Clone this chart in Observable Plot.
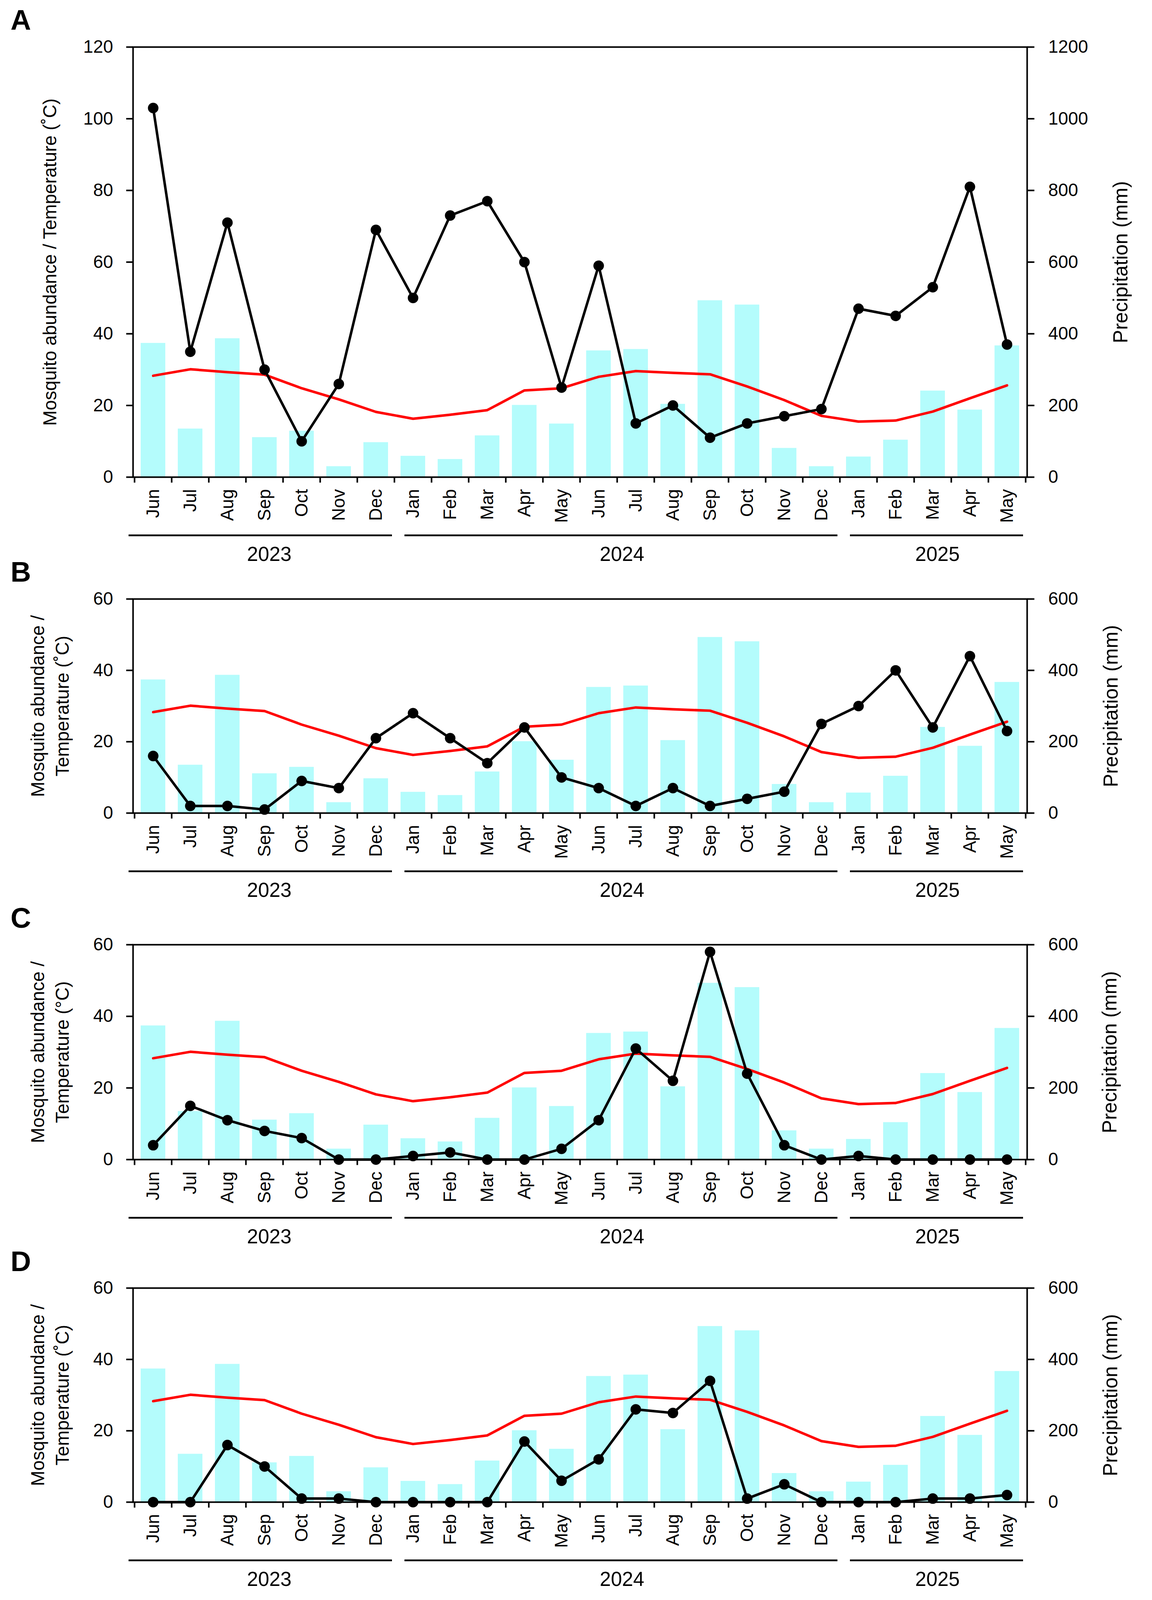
<!DOCTYPE html>
<html>
<head>
<meta charset="utf-8">
<script src="https://cdn.jsdelivr.net/npm/d3@7"></script>
<script src="https://cdn.jsdelivr.net/npm/@observablehq/plot@0.6"></script>
<style>
  html, body { margin: 0; padding: 0; background: #fff; overflow: hidden; }
  #root { position: relative; width: 2948px; background: #fff; font-family: "Liberation Sans", Arial, sans-serif; overflow: hidden; }
  .panel { position: absolute; left: 0; width: 2948px; }
  .panel svg { display: block; max-width: none; }
  .letter { position: absolute; left: 27px; font-weight: bold; line-height: 1; color: #000; font-family: "Liberation Sans", Arial, sans-serif; }
</style>
</head>
<body>
<div id="root"></div>
<script>
// ---------- data ----------
const months = ["Jun","Jul","Aug","Sep","Oct","Nov","Dec","Jan","Feb","Mar","Apr","May",
                "Jun","Jul","Aug","Sep","Oct","Nov","Dec","Jan","Feb","Mar","Apr","May"];
const years = [2023,2023,2023,2023,2023,2023,2023,
               2024,2024,2024,2024,2024,2024,2024,2024,2024,2024,2024,2024,
               2025,2025,2025,2025,2025];
const precipitation = [374,135,387,111,129,30,97,59,50,116,201,149,
                       353,357,204,493,481,81,30,57,104,241,188,367];
const temperature = [28.3,30.1,29.3,28.6,24.8,21.7,18.2,16.3,17.4,18.7,24.2,24.8,
                     28.0,29.6,29.1,28.7,25.3,21.5,17.1,15.5,15.8,18.3,22.0,25.6];
const abundanceA = [103,35,71,30,10,26,69,50,73,77,60,25,59,15,20,11,15,17,19,47,45,53,81,37];
const abundanceB = [16,2,2,1,9,7,21,28,21,14,24,10,7,2,7,2,4,6,25,30,40,24,44,23];
const abundanceC = [4,15,11,8,6,0,0,1,2,0,0,3,11,31,22,58,24,4,0,1,0,0,0,0];
const abundanceD = [0,0,16,10,1,1,0,0,0,0,17,6,12,26,25,34,1,5,0,0,0,1,1,2];
const ticksA = [0,20,40,60,80,100,120];
const ticksBCD = [0,20,40,60];
const precipFactor = 10; // right axis = left axis x 10

// ---------- derived tables ----------
const keys = months.map((m, i) => `${years[i]}-${m}`);
const monthOf = new Map(keys.map((k, i) => [k, months[i]]));
const rows = keys.map((k, i) => ({key: k, precip: precipitation[i], temp: temperature[i]}));
const yearGroups = d3.groups(keys.map((k, i) => ({key: k, year: years[i]})), d => d.year)
  .map(([year, items]) => ({year: String(year), first: items[0].key, last: items[items.length - 1].key,
                            mid: items[Math.floor((items.length - 1) / 2)].key, even: items.length % 2 === 0}));

// ---------- layout (the viewport may be shorter than the 5365px figure: fit vertically) ----------
const W = 2948, H = 5365, ML = 340, MR = 320;
const K = Math.min(1, (window.innerHeight || H) / H);
const step = (W - ML - MR) / keys.length;
const CYAN = "#b4fcfc";
const FONT = "'Liberation Sans', Arial, sans-serif";
const fs = v => Math.round(v * K * 10) / 10;

const root = document.getElementById("root");
root.style.height = Math.floor(H * K) + "px";

function panel({letter, top, height, mt, mb, ymax, yTicks, abundance, leftTitle, rightDx}) {
  const data = rows.map((r, i) => ({...r, ab: abundance[i]}));
  const marks = [
    Plot.barY(data, {x: "key", y: d => d.precip / precipFactor, fill: CYAN, insetLeft: 16, insetRight: 16}),
    Plot.frame({stroke: "black", strokeWidth: 4}),
    Plot.axisY({anchor: "left", ticks: yTicks, tickSize: 17, tickPadding: 34, fontSize: fs(60), strokeWidth: 4, label: null}),
    Plot.axisY({anchor: "right", ticks: yTicks, tickFormat: d => String(d * precipFactor), tickSize: 18, tickPadding: 36, fontSize: fs(60), strokeWidth: 4, label: null}),
    Plot.axisX({tickSize: 0, tickPadding: 40 * K, tickRotate: -90, fontSize: fs(60), tickFormat: k => monthOf.get(k), label: null}),
    Plot.axisX({tickSize: 19 * K, tickFormat: () => "", dx: -step / 2, strokeWidth: 4, label: null}),
    Plot.axisX({ticks: [keys[keys.length - 1]], tickSize: 19 * K, tickFormat: () => "", dx: step / 2, strokeWidth: 4, label: null}),
    Plot.lineY(data, {x: "key", y: "temp", stroke: "#ff0000", strokeWidth: 6.5}),
    Plot.lineY(data, {x: "key", y: "ab", stroke: "black", strokeWidth: 6.5}),
    Plot.dot(data, {x: "key", y: "ab", r: 13.5, fill: "black"}),
    Plot.ruleY(yearGroups.slice(0, 1), {x1: "first", x2: "last", y: () => 0, dy: 195 * K, strokeWidth: 4.5, stroke: "black", insetLeft: -15, insetRight: 6}),
    Plot.ruleY(yearGroups.slice(1), {x1: "first", x2: "last", y: () => 0, dy: 195 * K, strokeWidth: 4.5, stroke: "black", insetLeft: 26, insetRight: 6}),
    ...yearGroups.map(g => Plot.text([g], {x: "mid", y: () => 0, text: "year", dy: 260 * K, dx: (g.even ? step / 2 : 0) + 12, fontSize: fs(67), textAnchor: "middle", lineAnchor: "middle", fill: "black"})),
    Plot.text([leftTitle], {text: d => d, frameAnchor: "left", rotate: -90, dx: -216, fontSize: fs(62), lineHeight: 1.32, textAnchor: "middle", lineAnchor: "middle", fill: "black"}),
    Plot.text(["Precipitation (mm)"], {text: d => d, frameAnchor: "right", rotate: -90, dx: rightDx, fontSize: fs(67), textAnchor: "middle", lineAnchor: "middle", fill: "black"})
  ];
  const svg = Plot.plot({
    width: W, height: Math.round(height * K), marginTop: Math.round(mt * K), marginBottom: Math.round(mb * K),
    marginLeft: ML, marginRight: MR,
    x: {type: "band", domain: keys, padding: 0},
    y: {domain: [0, ymax]},
    style: {fontFamily: FONT, color: "black", background: "white", overflow: "visible", maxWidth: "none"},
    marks
  });
  const div = document.createElement("div");
  div.className = "panel";
  div.style.top = Math.round(top * K) + "px";
  div.style.height = Math.round(height * K) + "px";
  div.appendChild(svg);
  const lab = document.createElement("div");
  lab.className = "letter";
  lab.textContent = letter;
  lab.style.fontSize = fs(95) + "px";
  lab.style.top = Math.round((mt - 137) * K) + "px";
  div.appendChild(lab);
  root.appendChild(div);
}

panel({letter: "A", top: 0, height: 1940, mt: 157, mb: 340, ymax: 120, yTicks: ticksA, abundance: abundanceA,
       leftTitle: "Mosquito abundance / Temperature (˚C)", rightDx: 240});
panel({letter: "B", top: 1940, height: 1126, mt: 68, mb: 340, ymax: 60, yTicks: ticksBCD, abundance: abundanceB,
       leftTitle: "Mosquito abundance /\nTemperature (˚C)", rightDx: 215});
panel({letter: "C", top: 3066, height: 1162, mt: 101, mb: 340, ymax: 60, yTicks: ticksBCD, abundance: abundanceC,
       leftTitle: "Mosquito abundance /\nTemperature (°C)", rightDx: 212});
panel({letter: "D", top: 4228, height: 1137, mt: 91, mb: 329, ymax: 60, yTicks: ticksBCD, abundance: abundanceD,
       leftTitle: "Mosquito abundance /\nTemperature (˚C)", rightDx: 214});
</script>
</body>
</html>
